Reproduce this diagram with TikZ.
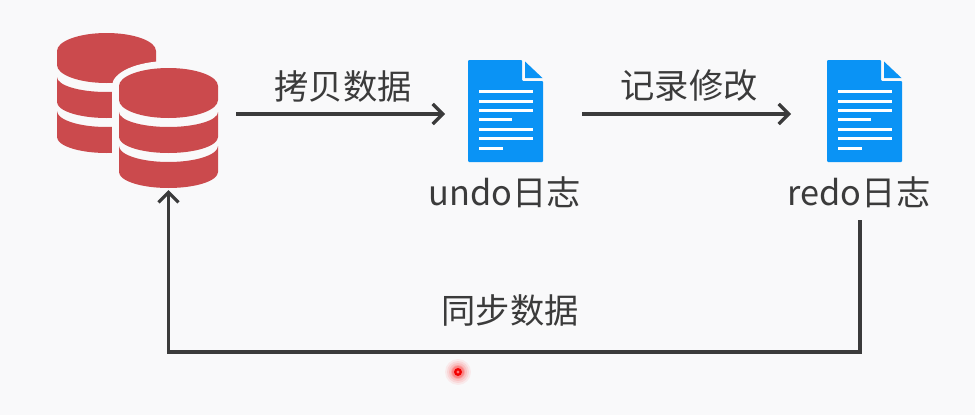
\documentclass[tikz,border=0pt]{standalone}
\usepackage{fontspec}
\setmainfont{Noto Sans CJK SC}
\usetikzlibrary{arrows.meta}
\definecolor{bgc}{HTML}{F9F9FA}
\definecolor{dbc}{HTML}{CB4A4D}
\definecolor{docc}{HTML}{0A93F5}
\definecolor{inkc}{HTML}{3B3B3B}
\tikzset{
  lbl/.style={font=\fontsize{34.3}{40}\selectfont, text=inkc, inner sep=0pt, anchor=center},
  conn/.style={draw=inkc, line width=3.3pt, -{Straight Barb[length=10pt,width=20pt,line width=3.3pt]}},
  holder/.style={inner sep=0pt, outer sep=0pt, minimum width=#1},
  docline/.style={draw=white, line width=3pt}
}
\newcommand{\dbbands}{%
  \fill[dbc] (119,112) -- (119,137) arc[start angle=180,end angle=360,x radius=49.5pt,y radius=16pt]
    -- (218,112) arc[start angle=0,end angle=-180,x radius=49.5pt,y radius=15pt] -- cycle;
  \fill[dbc] (119,146) -- (119,172) arc[start angle=180,end angle=360,x radius=49.5pt,y radius=16pt]
    -- (218,146) arc[start angle=0,end angle=-180,x radius=49.5pt,y radius=16pt] -- cycle;
}
\newcommand{\dbtop}{%
  \fill[dbc] (119,86) arc[start angle=180,end angle=0,x radius=49.5pt,y radius=18pt]
    -- (218,100) arc[start angle=0,end angle=-180,x radius=49.5pt,y radius=18pt] -- cycle;
}
\newcommand{\docicon}{%
  \fill[docc, rounded corners=1pt] (468,60) -- (522,60) -- (522,81) -- (543,81) -- (543,162) -- (468,162) -- cycle;
  \fill[docc] (525,61.5) -- (542.5,78) -- (525,78) -- cycle;
  \foreach \yy/\xe in {91/533,101/533,110/533,119.5/512,129/533,138/533,148/503}
    \draw[docline] (479,\yy) -- (\xe,\yy);
}
\begin{document}
\begin{tikzpicture}[x=1pt,y=-1pt]
\useasboundingbox (0,0) rectangle (975,415);
\fill[bgc] (0,0) rectangle (975,415);

% back cylinder
\begin{scope}[shift={(-62,-35)}]
  \dbtop
  \begin{scope}
    \clip (100,60) rectangle (174,240);
    \dbbands
  \end{scope}
\end{scope}
% gap round the front cylinder
\fill[bgc] (112,86) arc[start angle=180,end angle=0,x radius=56.5pt,y radius=25pt] -- (225,200) -- (112,200) -- cycle;
% front cylinder
\dbtop
\dbbands
\node[holder=99pt, minimum height=120pt] (db) at (168.5,128) {};

% documents
\docicon
\begin{scope}[shift={(359,0)}]
  \docicon
\end{scope}
\node[holder=75pt, minimum height=102pt] (undoicon) at (505.5,111) {};
\node[holder=75pt, minimum height=102pt] (redoicon) at (864.5,111) {};

% labels
\node[lbl] (copytext) at (343,86) {拷贝数据};
\node[lbl] (logtext) at (689,86) {记录修改};
\node[lbl] (undolabel) at (505,192.5) {undo日志};
\node[lbl] (redolabel) at (859,192.5) {redo日志};
\node[lbl] (synctext) at (510,310.5) {同步数据};

% connectors
\coordinate (redoout) at (860,220);
\coordinate (busleft) at (168.5,352);
\draw[conn, shorten <=18pt, shorten >=23pt] ([yshift=-3pt]db.east |- undoicon.west) -- ([yshift=-3pt]undoicon.west);
\draw[conn, shorten <=39pt, shorten >=36pt] ([yshift=-3pt]undoicon.east) -- ([yshift=-3pt]redoicon.west);
\draw[conn, shorten >=2pt] (redoout) |- (busleft) -- (db.south);

% pointer
\foreach \r/\o in {13/0.06,11/0.08,9/0.10,7/0.14,6/0.2}
  \fill[red, opacity=\o] (458,372) circle[radius=\r pt];
\fill[red!95!black] (458,372) circle[radius=4pt];
\fill[red!55!white] (458,372) circle[radius=1.6pt];
\end{tikzpicture}
\end{document}
